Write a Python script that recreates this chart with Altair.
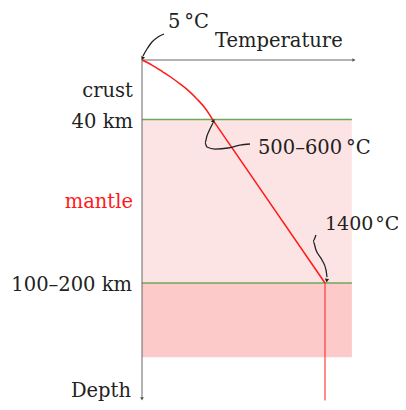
import altair as alt
import pandas as pd

# ---- data (temperature in °C, depth in schematic km) ----
curve_t = [5, 81, 165, 234, 295, 363, 424, 485, 546]
curve_d = [0, 3.4, 8.1, 12.1, 16.1, 20.9, 26.2, 32.3, 40.4]
line_t = [546, 1400, 1400]
line_d = [40.4, 150, 229]

band_top = [40, 150]
band_bottom = [150, 200]
band_color = ["#fde4e4", "#fdcaca"]
boundary_depths = [40, 150]
t_left, t_right, t_axis_end = 5, 1605, 1621
depth_axis_end = 228

lead_id = ["a"] * 5 + ["b"] * 9 + ["c"] * 6
lead_t = [12.6, 43, 81, 127, 173,
          546, 523, 500, 485, 500, 561, 661, 752, 828,
          1331, 1309, 1331, 1377, 1408, 1415]
lead_d = [-2.7, -7.4, -12.1, -15.5, -17.5,
          42.4, 46.4, 51.1, 55.8, 58.5, 59.9, 59.2, 57.2, 56.5,
          117.7, 121.7, 127.8, 134.5, 141.3, 146]

arrow_t = [10, 548, 1414]
arrow_d = [-1.5, 41.2, 148]
arrow_angle = [210, 27, 185]

label_text = ["5\u2009°C", "Temperature", "crust", "40 km", "mantle", "100–200 km", "Depth",
              "500–600\u2009°C", "1400\u200a°C"]
label_t = [203, 561, -64, -64, -64, -71, -79, 889, 1400]
label_d = [-21.5, -8.6, 24.9, 45.7, 99.5, 155.4, 226.7, 63.2, 114.3]
label_size = [19.5, 19.5, 19.5, 19.5, 19.5, 19.5, 19.5, 19.5, 19]
label_align = ["left", "left", "right", "right", "right", "right", "right", "left", "left"]
label_color = ["#222", "#222", "#222", "#222", "#ff1a1a", "#222", "#222", "#222", "#222"]

X = alt.Scale(domain=[5, 1400], range=[134, 317], zero=False, nice=False)
Y = alt.Scale(domain=[0, 150], range=[52, 275], zero=False, nice=False)

def xe(f):
    return alt.X(f, type="quantitative", scale=X, axis=None)

def ye(f):
    return alt.Y(f, type="quantitative", scale=Y, axis=None)

bands = pd.DataFrame({"t0": t_left, "t1": t_right, "d0": band_top, "d1": band_bottom, "c": band_color})
rect = alt.Chart(bands).mark_rect().encode(
    x=xe("t0"), x2="t1", y=ye("d0"), y2="d1", color=alt.Color("c:N", scale=None))

bd = pd.DataFrame({"d": boundary_depths, "t0": t_left, "t1": t_right})
green = alt.Chart(bd).mark_rule(color="#6ea85a", strokeWidth=1.5).encode(
    x=xe("t0"), x2="t1", y=ye("d"))

axes_df = pd.DataFrame({"t0": [t_left, t_left], "t1": [t_axis_end, t_left],
                        "d0": [0, 0], "d1": [0, depth_axis_end]})
axes = alt.Chart(axes_df).mark_rule(color="#666", strokeWidth=1).encode(
    x=xe("t0"), x2="t1", y=ye("d0"), y2="d1")

axhead = pd.DataFrame({"t": [t_axis_end, t_left], "d": [0, depth_axis_end],
                       "s": ["triangle-right", "triangle-down"]})
heads = alt.Chart(axhead).mark_point(filled=True, color="#555", size=14, opacity=1).encode(
    x=xe("t"), y=ye("d"), shape=alt.Shape("s:N", scale=None))

cdf = pd.DataFrame({"t": curve_t, "d": curve_d, "i": range(len(curve_t))})
red = alt.Chart(cdf).mark_line(color="#ff1a1a", strokeWidth=1.5, interpolate="monotone").encode(
    x=xe("t"), y=ye("d"), order="i:Q")
ldf2 = pd.DataFrame({"t": line_t, "d": line_d, "i": range(len(line_t))})
red_a = alt.Chart(ldf2.iloc[:2]).mark_line(color="#ff1a1a", strokeWidth=1.5).encode(
    x=xe("t"), y=ye("d"), order="i:Q")
red_b = alt.Chart(ldf2.iloc[1:]).mark_line(color="#ff1a1a", strokeWidth=1).encode(
    x=xe("t"), y=ye("d"), order="i:Q")

ldf = pd.DataFrame({"g": lead_id, "t": lead_t, "d": lead_d, "i": range(len(lead_t))})
leads = alt.Chart(ldf).mark_line(color="#222", strokeWidth=1.3, interpolate="monotone").encode(
    x=xe("t"), y=ye("d"), detail="g:N", order="i:Q")

adf = pd.DataFrame({"t": arrow_t, "d": arrow_d, "a": arrow_angle})
arrows = alt.Chart(adf).mark_point(shape="triangle", filled=True, color="#222", size=18, opacity=1).encode(
    x=xe("t"), y=ye("d"), angle=alt.Angle("a:Q", scale=None))

tdf = pd.DataFrame({"txt": label_text, "t": label_t, "d": label_d, "al": label_align,
                    "c": label_color, "s": label_size})
texts = []
for al in ["left", "right"]:
    texts.append(alt.Chart(tdf[tdf.al == al]).mark_text(
        font="DejaVu Serif", align=al, baseline="alphabetic").encode(
        x=xe("t"), y=ye("d"), text="txt:N", color=alt.Color("c:N", scale=None),
        size=alt.Size("s:Q", scale=None)))

chart = alt.layer(rect, green, axes, heads, red, red_a, red_b, leads, arrows, *texts).properties(
    width=390, height=394, autosize=alt.AutoSizeParams(type="none"), padding=0
).configure_view(stroke=None)

chart.save("out.html", embed_options={"renderer": "svg", "actions": False})
